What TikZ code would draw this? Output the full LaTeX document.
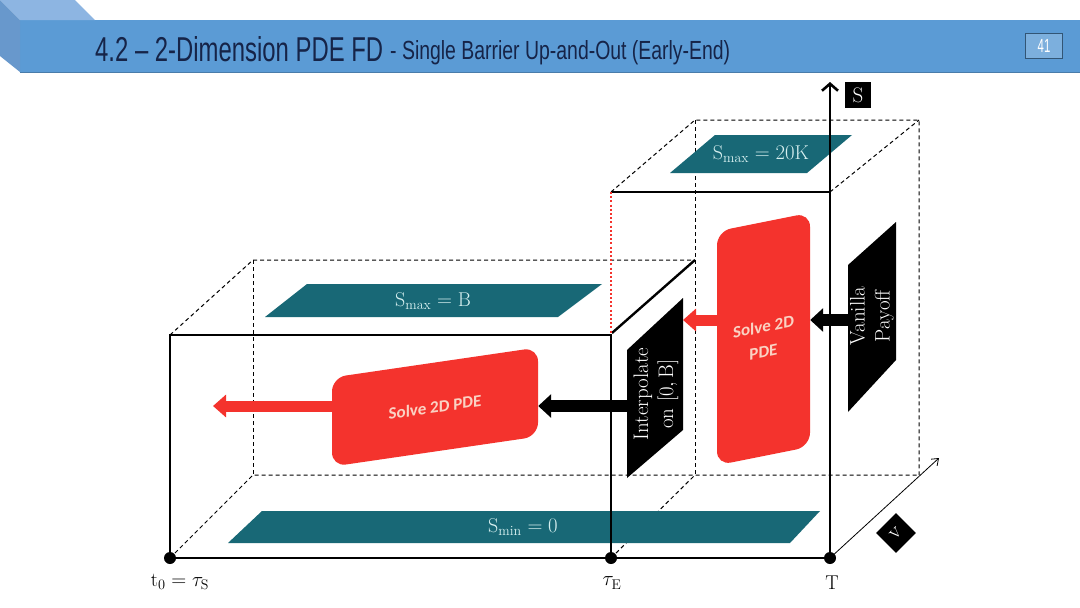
\documentclass[tikz,border=0pt]{standalone}
\usepackage{fontspec}
\usepackage{graphicx}
\usetikzlibrary{arrows.meta}
\newfontfamily\titlefont{Liberation Sans}
\newfontfamily\boxfont{Carlito}
\definecolor{barblue}{RGB}{91,155,213}
\definecolor{bartop}{RGB}{141,181,226}
\definecolor{barleft}{RGB}{104,152,204}
\definecolor{navy}{RGB}{22,36,72}
\definecolor{tealbar}{RGB}{24,104,118}
\definecolor{tealtext}{RGB}{215,240,240}
\definecolor{pdered}{RGB}{244,51,45}
\definecolor{pdetext}{RGB}{250,210,195}
\begin{document}
\begin{tikzpicture}[x=1pt,y=-1pt,
  dashedline/.style={line width=1pt, dash pattern=on 4pt off 3pt, black},
  frontline/.style={line width=2.8pt, black},
  tealtxt/.style={text=tealtext, font=\fontsize{20}{22}\selectfont, inner sep=0pt},
  redbox/.style={fill=pdered, rounded corners=14pt, transform shape, text=pdetext,
     font=\boxfont\bfseries\fontsize{17}{25}\selectfont, align=center, inner sep=0pt},
  whitetxt/.style={text=white, font=\fontsize{21}{25}\selectfont, align=center, rotate=90, inner sep=0pt},
  redarrow/.style={draw=pdered, line width=11pt, -{Triangle[width=22pt,length=13pt]}},
  blackarrow/.style={draw=black, line width=12pt, -{Triangle[width=23pt,length=13pt]}},
  dotnode/.style={circle, fill=black, inner sep=0pt, minimum size=12pt},
  axislabel/.style={fill=black, text=white, minimum size=26pt, inner sep=0pt, font=\fontsize{21}{21}\selectfont},
  ticklabel/.style={font=\fontsize{20}{22}\selectfont, inner sep=0pt}
]
\useasboundingbox[fill=white] (0,0) rectangle (1080,608);

% ---- title bar ----
\fill[barblue] (20,20) rectangle (1080,72);
\fill[bartop] (0,0) -- (75,0) -- (95,20) -- (20,20) -- cycle;
\fill[barleft] (0,0) -- (20,20) -- (20,72) -- (0,56) -- cycle;
\draw[barblue!80!black, line width=1pt] (20,72) -- (1080,72);
\node[anchor=base west, inner sep=0pt, text=navy] (title) at (95,61)
  {\resizebox{288pt}{25pt}{\titlefont 4.2 – 2-Dimension PDE FD}};
\node[anchor=base west, inner sep=0pt, text=navy] (subtitle) at (390,59)
  {\resizebox{340pt}{19pt}{\titlefont - Single Barrier Up-and-Out (Early-End)}};
\node[draw=barblue!55!black, line width=1pt, fill=barblue!80!white, minimum width=37pt, minimum height=25pt,
  inner sep=0pt, text=white] (pagenum) at (1044,46)
  {\scalebox{0.6}[1]{\titlefont\fontsize{19}{19}\selectfont 41}};

% ---- hidden (dashed) edges ----
\draw[dashedline] (170,335) -- (253,260) -- (695,260);
\draw[dashedline] (253,260) -- (253,475);
\draw[dashedline] (170,558) -- (253,475) -- (919,475);
\draw[dashedline] (611,558) -- (695,475);
\draw[dashedline] (695,120) -- (695,475);
\draw[dashedline] (611,192) -- (695,120) -- (919,120) -- (919,475);
\draw[dashedline] (830,192) -- (919,120);

% ---- teal boundary planes ----
\fill[tealbar] (228,543) -- (262,511) -- (820,511) -- (790,543) -- cycle;
\node[tealtxt] (smin) at (523,527) {$\mathrm{S_{min}} = 0$};
\fill[tealbar] (265,317) -- (307,284) -- (602,284) -- (558,317) -- cycle;
\node[tealtxt] (smaxB) at (433,301) {$\mathrm{S_{max}} = \mathrm{B}$};
\fill[tealbar] (670,173) -- (715,135) -- (852,135) -- (807,173) -- cycle;
\node[tealtxt] (smaxK) at (761,154) {$\mathrm{S_{max}} = 20\mathrm{K}$};

% ---- front edges ----
\draw[frontline] (170,558) -- (170,335) -- (611,335) -- (611,558);
\draw[frontline] (170,558) -- (830,558);
\draw[frontline] (611,192) -- (830,192);
\draw[line width=2.4pt] (612,333) -- (695,260);
\draw[pdered, line width=2.6pt, dash pattern=on 2pt off 2.2pt] (611,192) -- (611,333);

% ---- black parallelograms ----
\fill[black] (627,350) -- (683,298) -- (683,430) -- (627,478) -- cycle;
\node[whitetxt] (interp) at (656,394) {Interpolate\\on $[0,\mathrm{B}]$};
\fill[black] (848,265) -- (896,222) -- (896,360) -- (848,412) -- cycle;
\node[whitetxt] (vanilla) at (872,316) {Vanilla\\Payoff};
\coordinate (interpW) at (630,406);
\coordinate (interpE) at (683,320);
\coordinate (vanW) at (849,320);

% ---- red solver boxes ----
\node[redbox, yslant=0.146, minimum width=206pt, minimum height=89pt] (pdeL) at (435,407) {Solve 2D PDE};
\node[redbox, yslant=0.2, minimum width=93pt, minimum height=234pt] (pdeR) at (763.5,339) {Solve 2D\\PDE};
\coordinate (exitL) at (213,406);

% ---- flow arrows ----
\draw[redarrow] (pdeL.west |- exitL) -- (exitL);
\draw[redarrow] (pdeR.west |- interpE) -- (interpE);
\draw[blackarrow] (interpW) -- (pdeL.east |- interpW);
\draw[blackarrow] (vanW) -- (pdeR.east |- vanW);

% ---- axes and time points ----
\node[dotnode] (t0) at (170,558) {};
\node[dotnode] (tauE) at (611,558) {};
\node[dotnode] (T) at (830,558) {};
\coordinate (Stip) at (830,82);
\coordinate (Vtip) at (939,458);
\draw[line width=2.8pt, -{Straight Barb[length=7pt,width=16pt,line width=2.6pt]}] (T.center) -- (Stip);
\draw[line width=0.8pt, -{Straight Barb[length=6pt,width=9pt]}] (T.center) -- (Vtip);
\node[axislabel] (Slabel) at (858,95) {S};
\node[axislabel, rotate=45, minimum size=28pt, font=\fontsize{22}{22}\selectfont] (Vlabel) at (896,533) {v};

\node[ticklabel] (t0lab) at (180,582) {$\mathrm{t}_0 = \tau_{\mathrm{S}}$};
\node[ticklabel] (tauElab) at (612,583) {$\tau_{\mathrm{E}}$};
\node[ticklabel] (Tlab) at (832,583) {T};
\end{tikzpicture}
\end{document}
